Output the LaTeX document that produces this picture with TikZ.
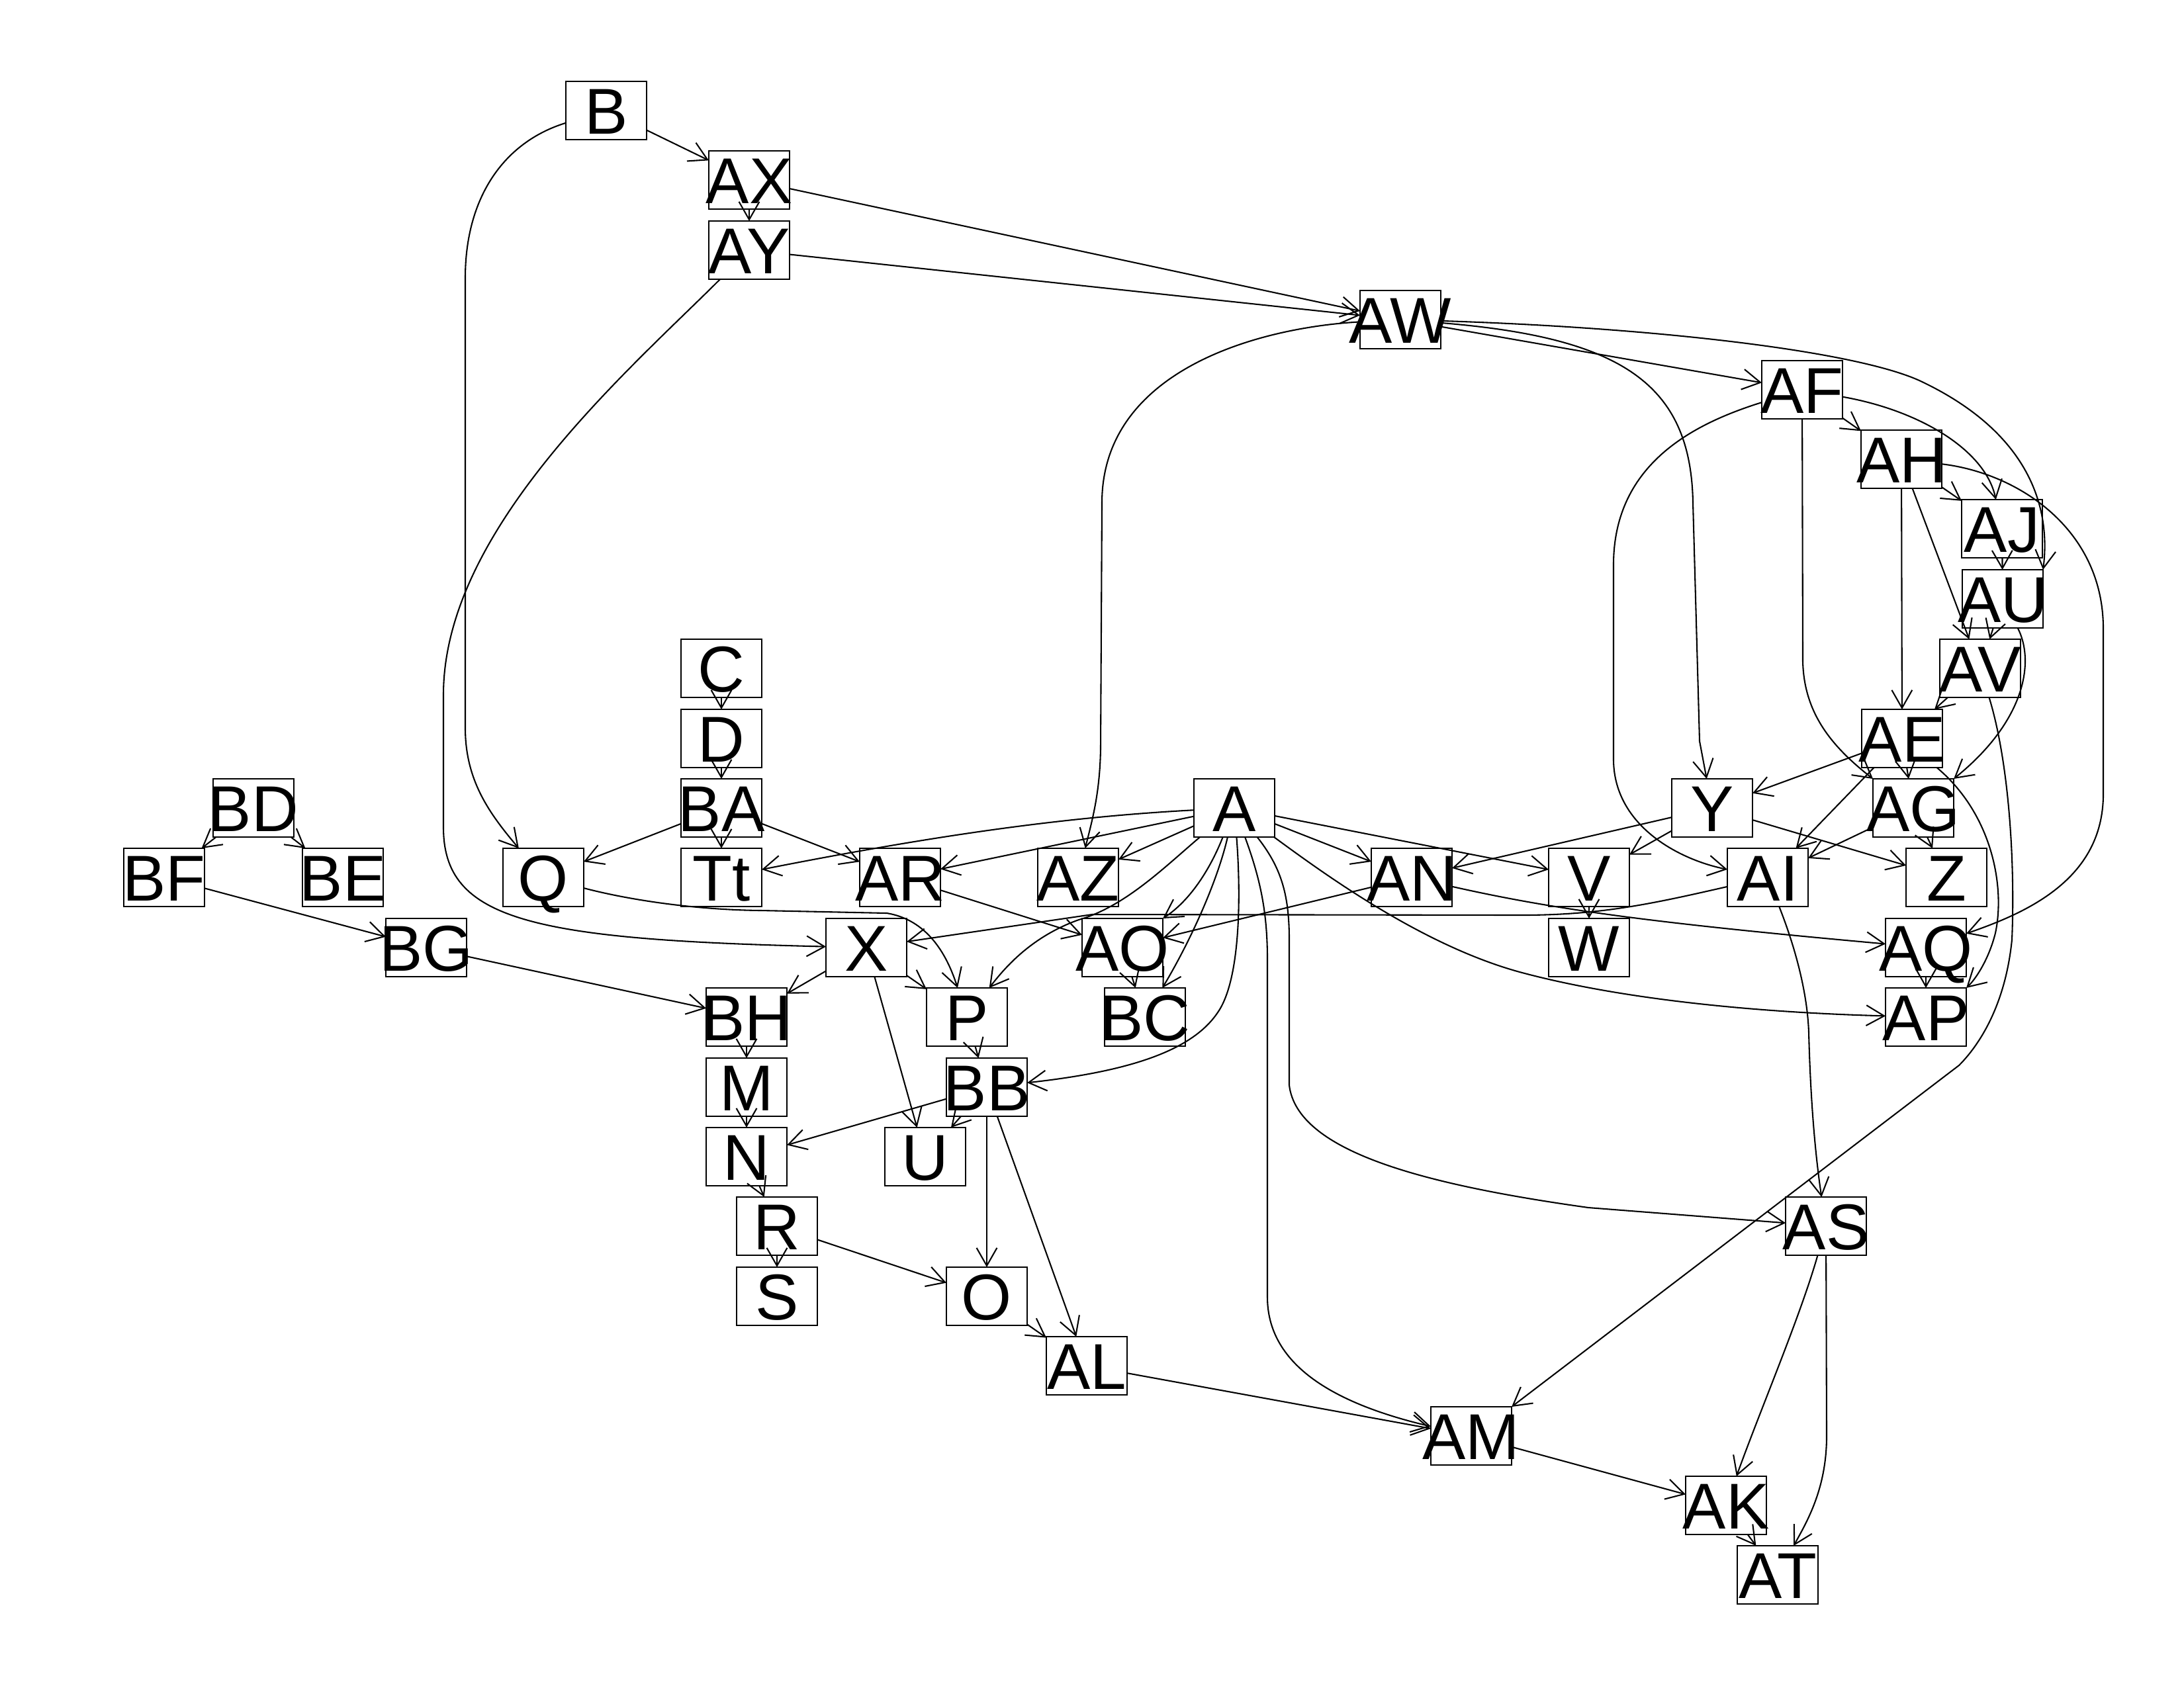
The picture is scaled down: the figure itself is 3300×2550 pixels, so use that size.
\documentclass[tikz,border=0pt]{standalone}
\usepackage{fontspec}
\setmainfont{Liberation Sans}
\usetikzlibrary{arrows.meta}
\newcommand\gnode[3]{\node[box] (#1) at (#2) {\makebox[0pt]{#3}};}
\begin{document}
\begin{tikzpicture}[x=0.24pt,y=-0.24pt,
 box/.style={draw,line width=0.6pt,rectangle,minimum width=29.28pt,minimum height=21.12pt,inner sep=0pt,outer sep=0pt,font=\fontsize{23.5}{24}\selectfont,text height=16.8pt,text depth=0pt},
 e/.style={line width=0.5pt,-{Straight Barb[length=6.5pt,width=7.4pt]}}]
\useasboundingbox (0,0) rectangle (3300,2550);
\gnode{B}{916,167}{B}
\gnode{AX}{1132,272}{AX}
\gnode{AY}{1132,378}{AY}
\gnode{AW}{2116,483}{AW}
\gnode{AF}{2723,589}{AF}
\gnode{AH}{2873,694}{AH}
\gnode{AJ}{3025,799}{AJ}
\gnode{AU}{3026,905}{AU}
\gnode{AV}{2992,1010}{AV}
\gnode{AE}{2874,1116}{AE}
\gnode{C}{1090,1010}{C}
\gnode{D}{1090,1116}{D}
\gnode{BA}{1090,1221}{BA}
\gnode{BD}{383,1221}{BD}
\gnode{A}{1865,1221}{A}
\gnode{Y}{2587,1221}{Y}
\gnode{AG}{2891,1221}{AG}
\gnode{BF}{248,1326}{BF}
\gnode{BE}{518,1326}{BE}
\gnode{Q}{821,1326}{Q}
\gnode{Tt}{1090,1326}{Tt}
\gnode{AR}{1360,1326}{AR}
\gnode{AZ}{1629,1326}{AZ}
\gnode{AN}{2133,1326}{AN}
\gnode{V}{2401,1326}{V}
\gnode{AI}{2671,1326}{AI}
\gnode{Z}{2941,1326}{Z}
\gnode{BG}{644,1432}{BG}
\gnode{X}{1309,1432}{X}
\gnode{AO}{1696,1432}{AO}
\gnode{W}{2401,1432}{W}
\gnode{AQ}{2910,1432}{AQ}
\gnode{BH}{1128,1537}{BH}
\gnode{P}{1461,1537}{P}
\gnode{BC}{1730,1537}{BC}
\gnode{AP}{2910,1537}{AP}
\gnode{M}{1128,1643}{M}
\gnode{BB}{1491,1643}{BB}
\gnode{N}{1128,1748}{N}
\gnode{U}{1398,1748}{U}
\gnode{R}{1174,1853}{R}
\gnode{AS}{2759,1853}{AS}
\gnode{S}{1174,1959}{S}
\gnode{O}{1491,1959}{O}
\gnode{AL}{1642,2064}{AL}
\gnode{AM}{2223,2170}{AM}
\gnode{AK}{2608,2275}{AK}
\gnode{AT}{2686,2380}{AT}
% edges
\draw[e] (B) -- (AX);
\draw[e] (B) .. controls (760,215) and (703,300) .. (703,420) -- (703,1100) .. controls (703,1180) and (740,1230) .. (Q);
\draw[e] (AX) -- (AY);
\draw[e] (AX) -- (AW);
\draw[e] (AY) -- (AW);
\draw[e] (AY) .. controls (950,560) and (670,800) .. (670,1050) -- (670,1250) .. controls (670,1390) and (800,1420) .. (X);
\draw[e] (AW) .. controls (1900,495) and (1665,560) .. (1665,760) -- (1663,1130) .. controls (1662,1200) and (1650,1240) .. (AZ);
\draw[e] (AW) -- (AF);
\draw[e] (AW) .. controls (2450,510) and (2555,580) .. (2558,760) -- (2568,1120) -- (Y);
\draw[e] (AW) .. controls (2500,495) and (2800,530) .. (2900,575) .. controls (3060,650) and (3100,760) .. (AU.north east);
\draw[e] (AF) -- (AH);
\draw[e] (AF) .. controls (2900,620) and (3000,680) .. (AJ);
\draw[e] (AF) -- (2724,1000) .. controls (2726,1080) and (2770,1130) .. (AG.north west);
\draw[e] (AF) .. controls (2560,640) and (2440,700) .. (2438,850) -- (2438,1150) .. controls (2440,1250) and (2540,1300) .. (AI);
\draw[e] (AH) -- (AJ);
\draw[e] (AH) -- (AE);
\draw[e] (AH) -- (AV);
\draw[e] (AH) .. controls (3050,715) and (3178,800) .. (3178,950) -- (3178,1200) .. controls (3178,1330) and (3060,1380) .. (AQ);
\draw[e] (AJ) -- (AU);
\draw[e] (AU) -- (AV);
\draw[e] (AU) .. controls (3075,1000) and (3060,1090) .. (AG.north east);
\draw[e] (AV) -- (AE);
\draw[e] (AV) .. controls (3035,1150) and (3045,1300) .. (3040,1420) .. controls (3030,1520) and (2990,1580) .. (2960,1610) -- (AM.north east);
\draw[e] (AE) -- (Y);
\draw[e] (AE) -- (AG);
\draw[e] (AE) -- (AI);
\draw[e] (AE) .. controls (3010,1230) and (3030,1340) .. (3015,1410) .. controls (3005,1450) and (2985,1480) .. (AP.north east);
\draw[e] (AG) -- (AI);
\draw[e] (AG) -- (Z);
\draw[e] (Y) -- (AN);
\draw[e] (Y) -- (V);
\draw[e] (Y) -- (Z);
\draw[e] (C) -- (D);
\draw[e] (D) -- (BA);
\draw[e] (BA) -- (Tt);
\draw[e] (BA) -- (Q);
\draw[e] (BA) -- (AR);
\draw[e] (BD) -- (BF);
\draw[e] (BD) -- (BE);
\draw[e] (BF) -- (BG);
\draw[e] (BG) -- (BH);
\draw[e] (A) .. controls (1600,1235) and (1400,1265) .. (Tt);
\draw[e] (A) -- (AR);
\draw[e] (A) -- (AZ);
\draw[e] (A) .. controls (1760,1310) and (1700,1370) .. (1630,1390) .. controls (1560,1415) and (1520,1460) .. (P);
\draw[e] (A) .. controls (1830,1310) and (1800,1360) .. (AO.north east);
\draw[e] (A) .. controls (1840,1330) and (1800,1420) .. (BC);
\draw[e] (A) .. controls (1875,1350) and (1875,1480) .. (1840,1530) .. controls (1800,1590) and (1700,1620) .. (BB);
\draw[e] (A) .. controls (1905,1330) and (1915,1380) .. (1915,1450) -- (1915,1960) .. controls (1915,2060) and (2010,2120) .. (AM);
\draw[e] (A) .. controls (1935,1310) and (1948,1350) .. (1948,1420) -- (1948,1640) .. controls (1960,1740) and (2150,1790) .. (2400,1825) -- (AS);
\draw[e] (A) .. controls (2000,1320) and (2150,1430) .. (2300,1470) .. controls (2450,1510) and (2650,1530) .. (AP);
\draw[e] (A) -- (AN);
\draw[e] (A) -- (V);
\draw[e] (AN) -- (AO);
\draw[e] (AN) .. controls (2350,1375) and (2500,1395) .. (AQ);
\draw[e] (V) -- (W);
\draw[e] (AI) .. controls (2500,1365) and (2420,1383) .. (2300,1383) -- (1650,1382) -- (X);
\draw[e] (AI) .. controls (2700,1400) and (2730,1480) .. (2733,1560) .. controls (2736,1680) and (2745,1760) .. (AS);
\draw[e] (AR) -- (AO);
\draw[e] (AO) -- (BC);
\draw[e] (Q) .. controls (950,1360) and (1050,1375) .. (1150,1376) -- (1340,1380) .. controls (1400,1390) and (1430,1440) .. (P);
\draw[e] (X) -- (BH);
\draw[e] (X) -- (P);
\draw[e] (X) -- (U);
\draw[e] (BH) -- (M);
\draw[e] (M) -- (N);
\draw[e] (N) -- (R);
\draw[e] (R) -- (S);
\draw[e] (R) -- (O);
\draw[e] (P) -- (BB);
\draw[e] (BB) -- (N);
\draw[e] (BB) -- (U);
\draw[e] (BB) -- (O);
\draw[e] (BB) -- (AL);
\draw[e] (O) -- (AL);
\draw[e] (AL) -- (AM);
\draw[e] (AM) -- (AK);
\draw[e] (AS) .. controls (2720,1990) and (2660,2130) .. (AK);
\draw[e] (AS) -- (2760,2170) .. controls (2760,2250) and (2730,2300) .. (AT);
\draw[e] (AK) -- (AT);
\draw[e] (AQ) -- (AP);
\end{tikzpicture}
\end{document}
